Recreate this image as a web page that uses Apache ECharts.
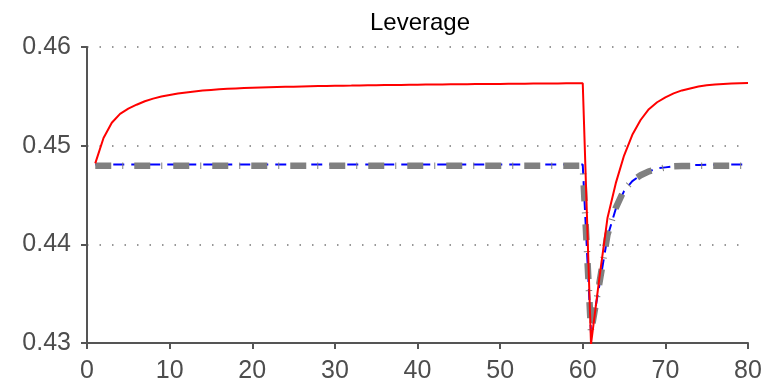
<!DOCTYPE html>
<html>
<head>
<meta charset="utf-8">
<script src="https://cdn.jsdelivr.net/npm/echarts@6/dist/echarts.min.js"></script>
<style>html,body{margin:0;padding:0;background:#fff}#c{width:778px;height:391px}</style>
</head>
<body>
<div id="c"></div>
<script>
const periods = Array.from({length: 80}, (_, i) => i + 1);
const redValues = [
  0.44821, 0.45078, 0.45232, 0.45322, 0.45375, 0.45415, 0.45450, 0.45477, 0.45498, 0.45514,
  0.45528, 0.45540, 0.45550, 0.45558, 0.45565, 0.45571, 0.45576, 0.45580, 0.45584, 0.45587,
  0.45590, 0.45592, 0.45594, 0.45596, 0.45598, 0.45600, 0.45602, 0.45604, 0.45605, 0.45607,
  0.45608, 0.45609, 0.45611, 0.45612, 0.45613, 0.45614, 0.45615, 0.45616, 0.45617, 0.45618,
  0.45619, 0.45620, 0.45621, 0.45622, 0.45623, 0.45623, 0.45624, 0.45625, 0.45626, 0.45626,
  0.45627, 0.45628, 0.45628, 0.45629, 0.45630, 0.45630, 0.45631, 0.45632, 0.45632, 0.45633,
  0.4299, 0.4365, 0.4427, 0.4462, 0.4490, 0.4511, 0.4526, 0.4537, 0.4544, 0.4549,
  0.4553, 0.4556, 0.4558, 0.4560, 0.45612, 0.4562, 0.45625, 0.4563, 0.45632, 0.45634
];
const blueValues = [
  0.44808, 0.44808, 0.44808, 0.44808, 0.44808, 0.44808, 0.44808, 0.44808, 0.44808, 0.44808,
  0.44808, 0.44808, 0.44808, 0.44808, 0.44808, 0.44808, 0.44808, 0.44808, 0.44808, 0.44808,
  0.44808, 0.44808, 0.44808, 0.44808, 0.44808, 0.44808, 0.44808, 0.44808, 0.44808, 0.44808,
  0.44808, 0.44808, 0.44808, 0.44808, 0.44808, 0.44808, 0.44808, 0.44808, 0.44808, 0.44808,
  0.44808, 0.44808, 0.44808, 0.44808, 0.44808, 0.44808, 0.44808, 0.44808, 0.44808, 0.44808,
  0.44808, 0.44808, 0.44808, 0.44808, 0.44808, 0.44808, 0.44808, 0.44808, 0.44808, 0.44808,
  0.4310, 0.4358, 0.4408, 0.4436, 0.4454, 0.4464, 0.4470, 0.4474, 0.4477, 0.4478,
  0.4479, 0.4480, 0.44803, 0.44805, 0.44806, 0.44807, 0.44807, 0.44808, 0.44808, 0.44808
];
const grayValues = [
  0.44796, 0.44796, 0.44796, 0.44796, 0.44796, 0.44796, 0.44796, 0.44796, 0.44796, 0.44796,
  0.44796, 0.44796, 0.44796, 0.44796, 0.44796, 0.44796, 0.44796, 0.44796, 0.44796, 0.44796,
  0.44796, 0.44796, 0.44796, 0.44796, 0.44796, 0.44796, 0.44796, 0.44796, 0.44796, 0.44796,
  0.44796, 0.44796, 0.44796, 0.44796, 0.44796, 0.44796, 0.44796, 0.44796, 0.44796, 0.44796,
  0.44796, 0.44796, 0.44796, 0.44796, 0.44796, 0.44796, 0.44796, 0.44796, 0.44796, 0.44796,
  0.44796, 0.44796, 0.44796, 0.44796, 0.44796, 0.44796, 0.44796, 0.44796, 0.44796, 0.44796,
  0.4311, 0.4360, 0.4410, 0.4437, 0.4455, 0.44645, 0.4470, 0.4474, 0.4476, 0.4478,
  0.4479, 0.44793, 0.44795, 0.44796, 0.44796, 0.44796, 0.44796, 0.44796, 0.44796, 0.44796
];
const xTicks = [0, 10, 20, 30, 40, 50, 60, 70, 80];
const yTicks = [0.43, 0.44, 0.45, 0.46];
const titleText = 'Leverage';

const pairs = vals => periods.map((t, i) => [t, vals[i]]);
const axisColor = '#555555';
const labelColor = '#4d4d4d';
const fontFamily = '"Liberation Sans", Arial, sans-serif';

const chart = echarts.init(document.getElementById('c'), null, {renderer: 'canvas'});
chart.setOption({
  animation: false,
  backgroundColor: '#ffffff',
  title: {
    text: titleText,
    left: 415,
    textAlign: 'center',
    top: 6,
    textStyle: {color: '#000', fontSize: 24, fontWeight: 'normal', fontFamily: fontFamily}
  },
  grid: {left: 87, right: 30, top: 47, bottom: 48, containLabel: false},
  xAxis: {
    type: 'value',
    min: xTicks[0],
    max: xTicks[xTicks.length - 1],
    interval: 10,
    axisLine: {show: true, onZero: false, lineStyle: {color: axisColor, width: 2}},
    axisTick: {show: true, inside: false, length: 6, lineStyle: {color: axisColor, width: 2}},
    axisLabel: {color: labelColor, fontSize: 25, fontFamily: fontFamily, margin: 16},
    splitLine: {show: false}
  },
  yAxis: {
    type: 'value',
    min: yTicks[0],
    max: yTicks[yTicks.length - 1],
    interval: 0.01,
    axisLine: {show: true, onZero: false, lineStyle: {color: axisColor, width: 2}},
    axisTick: {show: true, inside: false, length: 6, lineStyle: {color: axisColor, width: 2}},
    axisLabel: {color: labelColor, fontSize: 25, fontFamily: fontFamily, margin: 16,
      formatter: v => v.toFixed(2)},
    splitLine: {show: true, lineStyle: {color: '#777777', width: 1.5, type: [1.5, 11]}}
  },
  series: [
    {
      type: 'line', name: 'blue', data: pairs(blueValues), showSymbol: false, symbol: 'none',
      z: 2, clip: true,
      lineStyle: {color: '#0000ff', width: 2, type: [11, 7], cap: 'butt'}
    },
    {
      type: 'line', name: 'gray', data: pairs(grayValues), showSymbol: false, symbol: 'none',
      z: 3, clip: true,
      lineStyle: {color: '#808080', width: 6.5, type: [16, 11, 1, 11], cap: 'butt'}
    },
    {
      type: 'line', name: 'red', data: pairs(redValues), showSymbol: false, symbol: 'none',
      z: 4, clip: true,
      lineStyle: {color: '#ff0000', width: 2}
    }
  ]
});
</script>
</body>
</html>
